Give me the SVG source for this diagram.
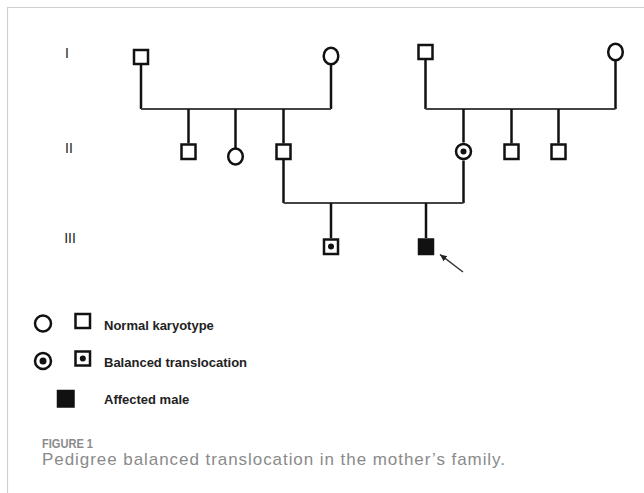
<svg xmlns="http://www.w3.org/2000/svg" width="644" height="493" viewBox="0 0 644 493">
<style>
.sym{fill:#fff;stroke:#111;stroke-width:2.5}
.fill{fill:#111;stroke:#111;stroke-width:2.5}
.dot{fill:#111}
.v{stroke:#111;stroke-width:2.5;fill:none}
.h{stroke:#444;stroke-width:2;fill:none}
.gen{font-family:"Liberation Sans",Arial,sans-serif;font-size:14px;fill:#222}
.leg{font-family:"Liberation Sans",Arial,sans-serif;font-size:13px;font-weight:bold;fill:#222}
.fig{font-family:"Liberation Sans",Arial,sans-serif;font-size:12.5px;font-weight:bold;fill:#8a8a8a}
.cap{font-family:"Liberation Sans",Arial,sans-serif;font-size:17px;fill:#8a8a8a}
</style>
<defs>
<marker id="ah" markerWidth="8" markerHeight="8" refX="7" refY="4" orient="auto" markerUnits="userSpaceOnUse">
<path d="M0,0.8 L7,4 L0,7.2 Z" fill="#222"/>
</marker>
</defs>
<rect width="644" height="493" fill="#fff"/>
<path d="M7.5,493 V7.5 H644" fill="none" stroke="#d0d0d0" stroke-width="1.2"/>

<g id="generation-labels">
<text class="gen" x="67" y="58" text-anchor="middle">I</text>
<text class="gen" x="69" y="153" text-anchor="middle">II</text>
<text class="gen" x="70" y="243" text-anchor="middle">III</text>
</g>

<g id="connectors">
<path class="v" d="M141,64 V109"/>
<path class="v" d="M331,64.5 V109"/>
<path class="h" d="M141,109 H331"/>
<path class="v" d="M188.5,109 V143.5"/>
<path class="v" d="M235.5,109 V148.5"/>
<path class="v" d="M283.5,109 V143.5"/>
<path class="v" d="M425.5,60 V109"/>
<path class="v" d="M615.5,60.5 V109"/>
<path class="h" d="M425.5,109 H615.5"/>
<path class="v" d="M463.5,109 V142.5"/>
<path class="v" d="M511.5,109 V143.5"/>
<path class="v" d="M558.5,109 V143.5"/>
<path class="v" d="M283.5,160 V203"/>
<path class="v" d="M463.5,160.5 V203"/>
<path class="h" d="M283.5,203 H463.5"/>
<path class="v" d="M331,203 V238"/>
<path class="v" d="M426,203 V238"/>
<path d="M463,272 L440,254.5" stroke="#333" stroke-width="1.5" fill="none" marker-end="url(#ah)"/>
</g>

<g id="I-1"><rect class="sym" x="134" y="50" width="14" height="14"/></g>
<g id="I-2"><ellipse class="sym" cx="331" cy="56" rx="7.3" ry="8.3"/></g>
<g id="I-3"><rect class="sym" x="418.5" y="45" width="14" height="14"/></g>
<g id="I-4"><ellipse class="sym" cx="615.5" cy="52" rx="7.3" ry="8.3"/></g>

<g id="II-1"><rect class="sym" x="181.5" y="144.5" width="14" height="14.5"/></g>
<g id="II-2"><ellipse class="sym" cx="235.5" cy="156.5" rx="7.3" ry="8"/></g>
<g id="II-3"><rect class="sym" x="276.5" y="144.5" width="14" height="14.5"/></g>
<g id="II-5"><circle class="sym" cx="463.5" cy="151.5" r="7.5"/><circle class="dot" cx="463.5" cy="151.5" r="3"/></g>
<g id="II-6"><rect class="sym" x="504.5" y="144.5" width="14" height="14.5"/></g>
<g id="II-7"><rect class="sym" x="551.5" y="144.5" width="14" height="14.5"/></g>

<g id="III-1"><rect class="sym" x="324" y="239.5" width="14" height="14.5"/><circle class="dot" cx="331" cy="246.5" r="3"/></g>
<g id="III-2"><rect class="fill" x="419" y="239.5" width="14" height="14.5"/></g>

<g id="legend-normal">
<circle class="sym" cx="43" cy="323.5" r="8"/>
<rect class="sym" x="75.5" y="314" width="14.5" height="14"/>
<text class="leg" x="104" y="330">Normal karyotype</text>
</g>
<g id="legend-balanced">
<circle class="sym" cx="43" cy="361" r="8" stroke-width="3"/>
<circle class="dot" cx="43" cy="361" r="3.5"/>
<rect class="sym" x="75.5" y="351.5" width="14.5" height="14"/>
<circle class="dot" cx="82.8" cy="358.5" r="3"/>
<text class="leg" x="104" y="367">Balanced translocation</text>
</g>
<g id="legend-affected">
<rect class="fill" x="58" y="391" width="15.5" height="15.5"/>
<text class="leg" x="104" y="404">Affected male</text>
</g>

<g id="caption">
<text class="fig" x="42" y="448" textLength="51" lengthAdjust="spacingAndGlyphs">FIGURE 1</text>
<text class="cap" x="42" y="465" textLength="463" lengthAdjust="spacing">Pedigree balanced translocation in the mother’s family.</text>
</g>
</svg>
